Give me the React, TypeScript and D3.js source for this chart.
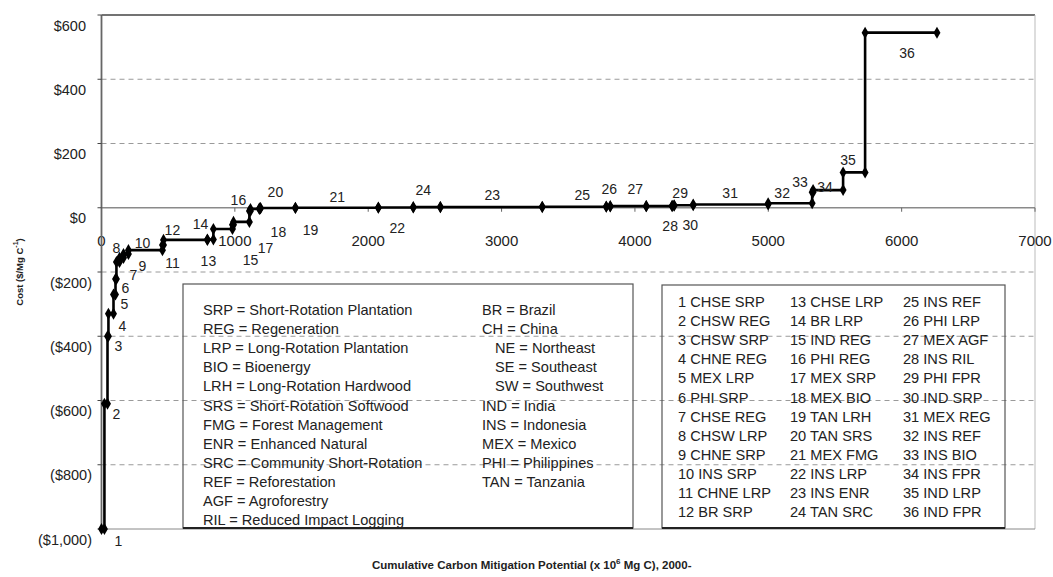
import React from "react";
import * as d3 from "d3";

// ---- data ----
const projectIds = [1,2,3,4,5,6,7,8,9,10,11,12,13,14,15,16,17,18,19,20,21,22,24,23,25,26,27,28,29,30,31,32,33,34,35,36];
// cumulative mitigation at the end of each project (x 10^6 Mg C)
const cumulativeEnd = [22,45,52,90,105,112,135,165,202,457,465,794,839,982,990,1109,1117,1184,1192,1454,2076,2338,2541,3305,3785,3815,4085,4279,4294,4437,4999,5329,5336,5561,5726,6265];
// cost ($/Mg C)
const costs = [-1000,-610,-400,-330,-270,-222,-169,-156,-144,-132,-116,-100,-99,-66,-53,-44,-10,-4,-2,-1,0,1,2,2,3,4,5,5,6,8,10,14,48,55,110,545];

const yTicks = [600,400,200,0,-200,-400,-600,-800,-1000];
const xTicks = [0,1000,2000,3000,4000,5000,6000,7000];

const typeCodes = [
  "SRP = Short-Rotation Plantation",
  "REG = Regeneration",
  "LRP = Long-Rotation Plantation",
  "BIO = Bioenergy",
  "LRH = Long-Rotation Hardwood",
  "SRS = Short-Rotation Softwood",
  "FMG = Forest Management",
  "ENR = Enhanced Natural",
  "SRC = Community Short-Rotation",
  "REF = Reforestation",
  "AGF = Agroforestry",
  "RIL = Reduced Impact Logging",
];
const countryCodes = [
  "BR = Brazil",
  "CH = China",
  "NE = Northeast",
  "SE = Southeast",
  "SW = Southwest",
  "IND = India",
  "INS = Indonesia",
  "MEX = Mexico",
  "PHI = Philippines",
  "TAN = Tanzania",
];
const indentedCodes = ["NE = Northeast","SE = Southeast","SW = Southwest"];
const projectNames1 = ["1 CHSE SRP","2 CHSW REG","3 CHSW SRP","4 CHNE REG","5 MEX LRP","6 PHI SRP","7 CHSE REG","8 CHSW LRP","9 CHNE SRP","10 INS SRP","11 CHNE LRP","12 BR SRP"];
const projectNames2 = ["13 CHSE LRP","14 BR LRP","15 IND REG","16 PHI REG","17 MEX SRP","18 MEX BIO","19 TAN LRH","20 TAN SRS","21 MEX FMG","22 INS LRP","23 INS ENR","24 TAN SRC"];
const projectNames3 = ["25 INS REF","26 PHI LRP","27 MEX AGF","28 INS RIL","29 PHI FPR","30 IND SRP","31 MEX REG","32 INS REF","33 INS BIO","34 INS FPR","35 IND LRP","36 IND FPR"];

// label placement relative to each segment's end vertex (px), keyed by project id
const labelOffsets: Record<number, [number, number]> = {
  1:[14,12],2:[9,10],3:[10,10],4:[9,12],5:[9,10],6:[9,9],7:[14,13],8:[-7,-10],9:[14,12],
  10:[-20,-7],11:[9,18],12:[-35,-10],13:[-5,21],14:[-32,-5],15:[17,35],16:[-11,-22],
  17:[15,37],18:[19,23],19:[50,22],20:[-20,-16],21:[-41,-11],22:[-16,21],24:[-17,-17],
  23:[-50,-12],25:[-24,-12],26:[-1,-17],27:[-11,-17],28:[-2,20],29:[6,-13],30:[-3,20],
  31:[-38,-12],32:[-30,-10],33:[-13,-10],34:[-18,-3],35:[-17,-12],36:[-30,20],
};

const W = 1053, H = 577;
const FONT = "'Liberation Sans', Arial, sans-serif";

export default function App() {
  const x = d3.scaleLinear().domain([0, 7000]).range([101.5, 1035]);
  const y = d3.scaleLinear().domain([-1000, 600]).range([529, 15]);

  // step path vertices
  const verts: [number, number][] = [];
  let start = 0;
  projectIds.forEach((id, i) => {
    verts.push([start, costs[i]]);
    verts.push([cumulativeEnd[i], costs[i]]);
    start = cumulativeEnd[i];
  });
  const line = d3.line<[number, number]>().x(d => x(d[0])).y(d => y(d[1]));
  const diamond = d3.symbol().type(d3.symbolDiamond).size(42)();

  const lineH = 19.1;
  const legendFont = 14.6;
  return (
    <svg width={W} height={H} style={{ position: "absolute", left: 0, top: 0, background: "#fff" }} fontFamily={FONT}>
      {/* gridlines */}
      {yTicks.filter(t => t !== 0 && t !== 600 && t !== -1000).map(t => (
        <line key={"g" + t} x1={x(0)} x2={x(7000)} y1={y(t)} y2={y(t)} stroke="#9a9a9a" strokeWidth={1} strokeDasharray="5,4" />
      ))}
      {/* plot frame */}
      <line x1={x(0)} x2={x(7000)} y1={y(600)} y2={y(600)} stroke="#444" strokeWidth={1.5} />
      <line x1={x(7000)} x2={x(7000)} y1={y(600)} y2={y(-1000)} stroke="#bbb" strokeWidth={1} />
      <line x1={x(0)} x2={x(7000)} y1={y(-1000)} y2={y(-1000)} stroke="#888" strokeWidth={1} />
      {/* x axis at $0 */}
      <line x1={x(0)} x2={x(7000)} y1={y(0)} y2={y(0)} stroke="#8a8a8a" strokeWidth={1.6} />
      {xTicks.map(t => (
        <g key={"xt" + t}>
          <line x1={x(t)} x2={x(t)} y1={y(0)} y2={y(0) + 4} stroke="#666" strokeWidth={1} />
          <text x={x(t)} y={240} fontSize={15} textAnchor="middle" dominantBaseline="central" fill="#222">{t}</text>
        </g>
      ))}
      {/* y axis */}
      <line x1={x(0)} x2={x(0)} y1={y(600)} y2={y(-1000)} stroke="#666" strokeWidth={1.8} />
      {yTicks.map(t => (
        <g key={"yt" + t}>
          <line x1={x(0) - 4} x2={x(0)} y1={y(t)} y2={y(t)} stroke="#444" strokeWidth={1} />
          <text x={t < 0 ? 92 : 86} y={y(t) + 10.5} fontSize={14.5} textAnchor="end" dominantBaseline="central" fill="#222">
            {t < 0 ? `($${d3.format(",")(-t)})` : `$${t}`}
          </text>
        </g>
      ))}

      {/* legend boxes */}
      <rect x={183} y={284} width={450} height={244} fill="none" stroke="#555" strokeWidth={1.2} />
      <line x1={183} x2={633} y1={528} y2={528} stroke="#222" strokeWidth={2} />
      {typeCodes.map((s, i) => (
        <text key={s} x={203} y={310 + i * lineH} fontSize={legendFont} dominantBaseline="central" fill="#222">{s}</text>
      ))}
      {countryCodes.map((s, i) => (
        <text key={s} x={indentedCodes.includes(s) ? 495 : 482} y={310 + i * lineH} fontSize={legendFont} dominantBaseline="central" fill="#222">{s}</text>
      ))}
      <rect x={662} y={285} width={343} height={243} fill="none" stroke="#555" strokeWidth={1.2} />
      <line x1={662} x2={1005} y1={528} y2={528} stroke="#222" strokeWidth={2} />
      {[projectNames1, projectNames2, projectNames3].map((col, c) =>
        col.map((s, i) => (
          <text key={s + c} x={[678, 790, 903][c]} y={302 + i * lineH} fontSize={legendFont} dominantBaseline="central" fill="#222">{s}</text>
        ))
      )}

      {/* supply curve */}
      <path d={line(verts) || ""} fill="none" stroke="#000" strokeWidth={2.6} />
      {verts.map((v, i) => (
        <path key={"m" + i} d={diamond || ""} transform={`translate(${x(v[0])},${y(v[1])})`} fill="#000" />
      ))}
      {projectIds.map((id, i) => {
        const o = labelOffsets[id];
        return (
          <text key={"l" + id} x={x(cumulativeEnd[i]) + o[0]} y={y(costs[i]) + o[1]} fontSize={14} textAnchor="middle" dominantBaseline="central" fill="#222">{id}</text>
        );
      })}

      {/* axis titles */}
      <text transform={`translate(19,272) rotate(-90)`} fontSize={9.5} fontWeight="bold" textAnchor="middle" dominantBaseline="central" fill="#222">
        Cost ($/Mg C<tspan dy={-4} fontSize={7}>-1</tspan><tspan dy={4}>)</tspan>
      </text>
      <text x={372} y={565} fontSize={11.5} fontWeight="bold" dominantBaseline="central" fill="#222">
        Cumulative Carbon Mitigation Potential (x 10<tspan dy={-4} fontSize={8}>6</tspan><tspan dy={4}> Mg C), 2000-</tspan>
      </text>
    </svg>
  );
}
